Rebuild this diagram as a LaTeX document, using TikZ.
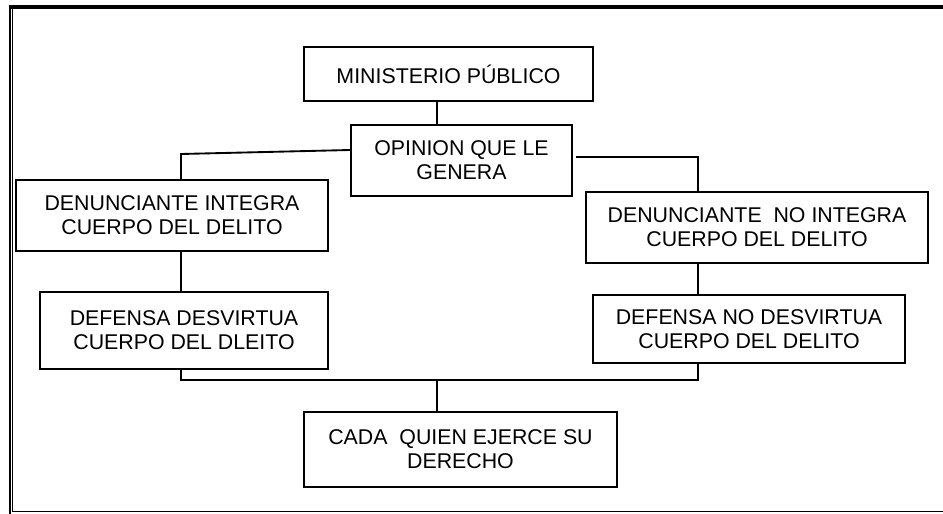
\documentclass[tikz,border=0pt]{standalone}
\usepackage{fontspec}
\setmainfont{Liberation Sans}
\usepackage{tikz}

\begin{document}
\begin{tikzpicture}[
  x=0.75pt, y=-0.75pt,
  box/.style={draw=black, line width=1.4pt, align=center, inner sep=0pt,
              font=\fontsize{16}{18.2}\selectfont},
  link/.style={black, line width=1.4pt}]
\useasboundingbox (0,0) rectangle (943,514);
% page frame
\draw[line width=2.6pt] (9,6.8) -- (943,6.8);
\draw[line width=1.5pt] (9.7,5) -- (9.7,514);
\draw[line width=0.8pt] (12.8,8) -- (12.8,511.6);
\draw[line width=1.1pt] (12.8,511.6) -- (943,511.6);
% boxes
\node[box, minimum width=216.75pt, minimum height=40.5pt] (mp) at (448.5,74) {MINISTERIO PÚBLICO};
\node[box, minimum width=165.75pt, minimum height=53.25pt] (opinion) at (461.5,160.5) {OPINION QUE LE\\GENERA};
\node[box, minimum width=234pt, minimum height=53.25pt] (denint) at (172,215.5) {DENUNCIANTE INTEGRA\\CUERPO DEL DELITO};
\node[box, minimum width=256.5pt, minimum height=53.25pt] (dennoint) at (757,227.5) {DENUNCIANTE~ NO INTEGRA\\CUERPO DEL DELITO};
\node[box, minimum width=216pt, minimum height=57.75pt] (defdes) at (184,330.5) {DEFENSA DESVIRTUA\\CUERPO DEL DLEITO};
\node[box, minimum width=234pt, minimum height=51pt] (defnodes) at (749,329) {DEFENSA NO DESVIRTUA\\CUERPO DEL DELITO};
\node[box, minimum width=234.75pt, minimum height=56.25pt] (cada) at (460.5,449.5) {CADA~ QUIEN EJERCE SU\\DERECHO};
% connectors
\coordinate (lknee) at (181,154);
\coordinate (rknee) at (698,157);
\coordinate (trunk) at (437,380);
\draw[link] (trunk |- mp.south) -- (trunk |- opinion.north);
\draw[link] (opinion.west |- 0,150) -- (lknee) -- (lknee |- denint.north);
\draw[link] ([xshift=2pt]opinion.east |- rknee) -- (rknee) -- (rknee |- dennoint.north);
\draw[link] (lknee |- denint.south) -- (lknee |- defdes.north);
\draw[link] (rknee |- dennoint.south) -- (rknee |- defnodes.north);
\draw[link] (lknee |- defdes.south) -- (lknee |- trunk) -- (rknee |- trunk) -- (rknee |- defnodes.south);
\draw[link] (trunk) -- (trunk |- cada.north);
\end{tikzpicture}
\end{document}
